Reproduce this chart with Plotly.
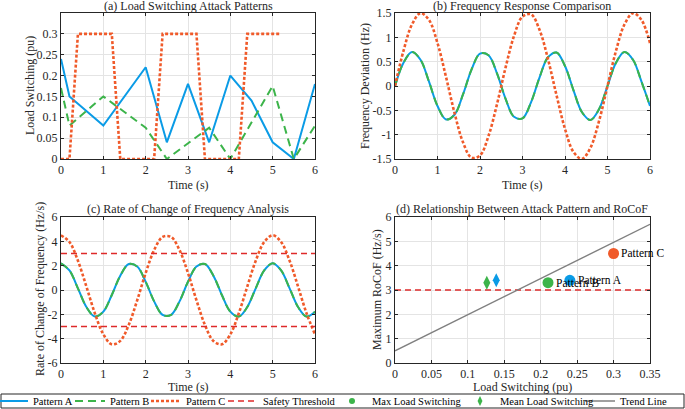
import plotly.graph_objects as go

# (a) load switching attack patterns
t_a = [0, 0.2, 1, 2, 2.5, 3, 3.5, 4, 4.5, 5, 5.5, 6]
load_a = [0.24, 0.15, 0.08, 0.22, 0.04, 0.18, 0.04, 0.20, 0.14, 0.04, 0.0, 0.18]
t_b = [0, 0.2, 1, 2, 2.5, 3.5, 4, 5, 5.5, 6]
load_b = [0.17, 0.08, 0.15, 0.075, 0.0, 0.075, 0.0, 0.175, 0.0, 0.08]
t_c = [0, 0.2, 0.4, 1.2, 1.4, 2.2, 2.4, 3.2, 3.4, 4.2, 4.4, 5.2]
load_c = [0, 0, 0.3, 0.3, 0, 0, 0.3, 0.3, 0, 0, 0.3, 0.3]

# (b) / (c) sampled responses
t_resp = [0, 0.2, 0.4, 0.6, 0.8, 1.0, 1.2, 1.4, 1.6, 1.8, 2.0, 2.2, 2.4, 2.6, 2.8, 3.0,
          3.2, 3.4, 3.6, 3.8, 4.0, 4.2, 4.4, 4.6, 4.8, 5.0, 5.2, 5.4, 5.6, 5.8, 6.0]
freq_ab = [0, 0.479, 0.699, 0.539, 0.088, -0.411, -0.688, -0.591, -0.174, 0.337, 0.666,
           0.633, 0.258, -0.258, -0.633, -0.666, -0.337, 0.174, 0.591, 0.688, 0.411,
           -0.088, -0.539, -0.699, -0.479, 0, 0.479, 0.699, 0.539, 0.088, -0.411]
freq_c = [0, 0.723, 1.266, 1.497, 1.357, 0.882, 0.188, -0.552, -1.156, -1.473, -1.427,
          -1.027, -0.373, 0.373, 1.027, 1.427, 1.473, 1.156, 0.552, -0.188, -0.882,
          -1.357, -1.497, -1.266, -0.723, 0, 0.723, 1.266, 1.497, 1.357, 0.882]
rocof_ab = [2.2, 1.604, 0.138, -1.402, -2.183, -1.780, -0.412, 1.179, 2.131, 1.928, 0.680,
            -0.937, -2.046, -2.046, -0.937, 0.680, 1.928, 2.131, 1.179, -0.412, -1.780,
            -2.183, -1.402, 0.138, 1.604, 2.2, 1.604, 0.138, -1.402, -2.183, -1.780]
rocof_c = [4.5, 3.943, 2.411, 0.283, -1.916, -3.641, -4.464, -4.184, -2.868, -0.843, 1.391,
           3.281, 4.359, 4.359, 3.281, 1.391, -0.843, -2.868, -4.184, -4.464, -3.641,
           -1.916, 0.283, 2.411, 3.943, 4.5, 3.943, 2.411, 0.283, -1.916, -3.641]
threshold = 3
t_span = [0, 6]

# (d) attack pattern vs RoCoF (order B, A, C)
pattern_names = ['Pattern B', 'Pattern A', 'Pattern C']
max_load = [0.21, 0.24, 0.30]
mean_load = [0.126, 0.139]
max_rocof = [3.3, 3.4, 4.5]
trend_x = [0, 0.35]
trend_y = [0.5, 5.7]

# tick labels
ticks_a = [0, 0.05, 0.1, 0.15, 0.2, 0.25, 0.3]
ticks_b = [-1.5, -1, -0.5, 0, 0.5, 1, 1.5]
ticks_c = [-6, -4, -2, 0, 2, 4, 6]
ticks_dx = [0, 0.05, 0.1, 0.15, 0.2, 0.25, 0.3, 0.35]
ticks_dy = [0, 1, 2, 3, 4, 5, 6]
ticks_t = [0, 1, 2, 3, 4, 5, 6]

BLUE = '#0a9be6'
GREEN = '#3cb44a'
ORANGE = '#f05a2a'
RED = '#de2a2a'
GRAY = '#808080'
FONT = 'Liberation Serif, Times New Roman, serif'
W, H = 685, 409


def lbl(v):
    return '%g' % v


fig = go.Figure()

line_a = dict(color=BLUE, width=2)
line_b = dict(color=GREEN, width=2, dash='8px,5px')
line_c = dict(color=ORANGE, width=2.6, dash='3px,2px')

# panel a
fig.add_trace(go.Scatter(x=t_a, y=load_a, mode='lines', line=line_a, name='Pattern A',
                         legend='legend', xaxis='x', yaxis='y'))
fig.add_trace(go.Scatter(x=t_b, y=load_b, mode='lines', line=line_b, name='Pattern B',
                         legend='legend2', xaxis='x', yaxis='y'))
fig.add_trace(go.Scatter(x=t_c, y=load_c, mode='lines', line=line_c, name='Pattern C',
                         legend='legend3', xaxis='x', yaxis='y'))

# panel b
for yv, ln in [(freq_ab, line_a), (freq_ab, line_b), (freq_c, line_c)]:
    fig.add_trace(go.Scatter(x=t_resp, y=yv, mode='lines', line=dict(ln, shape='spline'),
                             showlegend=False, xaxis='x2', yaxis='y2'))

# panel c
for yv, ln in [(rocof_ab, line_a), (rocof_ab, line_b), (rocof_c, line_c)]:
    fig.add_trace(go.Scatter(x=t_resp, y=yv, mode='lines', line=dict(ln, shape='spline'),
                             showlegend=False, xaxis='x3', yaxis='y3'))
thr_line = dict(color=RED, width=1.6, dash='6px,4px')
fig.add_trace(go.Scatter(x=t_span, y=[threshold] * 2, mode='lines', line=thr_line,
                         name='Safety Threshold', legend='legend4', xaxis='x3', yaxis='y3'))
fig.add_trace(go.Scatter(x=t_span, y=[-threshold] * 2, mode='lines', line=thr_line,
                         showlegend=False, xaxis='x3', yaxis='y3'))

# panel d
fig.add_trace(go.Scatter(x=[trend_x[0], trend_x[-1]], y=[threshold] * 2, mode='lines',
                         line=thr_line, showlegend=False, xaxis='x4', yaxis='y4'))
fig.add_trace(go.Scatter(x=trend_x, y=trend_y, mode='lines', line=dict(color=GRAY, width=1.4),
                         name='Trend Line', legend='legend7', xaxis='x4', yaxis='y4'))
fig.add_trace(go.Scatter(x=max_load, y=max_rocof, mode='markers',
                         marker=dict(color=[GREEN, BLUE, ORANGE], size=11, symbol='circle'),
                         showlegend=False, xaxis='x4', yaxis='y4'))
fig.add_trace(go.Scatter(x=mean_load, y=max_rocof[:2], mode='markers',
                         marker=dict(color=[GREEN, BLUE], size=10, symbol='diamond-tall'),
                         showlegend=False, xaxis='x4', yaxis='y4'))
# small legend symbols for the scatter series
fig.add_trace(go.Scatter(x=[None], y=[None], mode='markers', name='Max Load Switching',
                         marker=dict(color=GREEN, size=6, symbol='circle'),
                         legend='legend5', xaxis='x4', yaxis='y4'))
fig.add_trace(go.Scatter(x=[None], y=[None], mode='markers', name='Mean Load Switching',
                         marker=dict(color=GREEN, size=7, symbol='diamond-tall'),
                         legend='legend6', xaxis='x4', yaxis='y4'))

annotations = []
for name, xv, yv in zip(pattern_names, max_load, max_rocof):
    annotations.append(dict(x=xv + 0.008, y=yv, xref='x4', yref='y4', text=name,
                            showarrow=False, xanchor='left', yanchor='middle',
                            font=dict(family=FONT, size=11.5, color='black')))

dom_l = [61 / W, 315 / W]
dom_r = [395 / W, 650 / W]
dom_t = [1 - 159 / H, 1 - 13 / H]
dom_bm = [1 - 363 / H, 1 - 217 / H]


def pt(px, py):
    return px / W, 1 - py / H


texts = [
    ('(a) Load Switching Attack Patterns', 188, 6, 0),
    ('(b) Frequency Response Comparison', 522, 6, 0),
    ('(c) Rate of Change of Frequency Analysis', 188, 209, 0),
    ('(d) Relationship Between Attack Pattern and RoCoF', 522, 209, 0),
    ('Time (s)', 188, 185, 0),
    ('Time (s)', 522, 185, 0),
    ('Time (s)', 188, 387, 0),
    ('Load Switching (pu)', 522, 387, 0),
    ('Load Switching (pu)', 30, 86, -90),
    ('Frequency Deviation (Hz)', 365, 86, -90),
    ('Rate of Change of Frequency (Hz/s)', 40, 289, -90),
    ('Maximum RoCoF (Hz/s)', 377, 290, -90),
]
for txt, px, py, ang in texts:
    ax_, ay_ = pt(px, py)
    annotations.append(dict(x=ax_, y=ay_, xref='paper', yref='paper', text=txt,
                            showarrow=False, textangle=ang, xanchor='center',
                            yanchor='middle', font=dict(family=FONT, size=12, color='#262626')))


def axis(domain, anchor, rng, tv):
    return dict(domain=domain, anchor=anchor, range=rng, tickvals=tv,
                ticktext=[lbl(v) for v in tv], showline=True, mirror='ticks',
                linecolor='#262626', linewidth=1, ticks='inside', ticklen=3,
                tickcolor='#262626', showgrid=True, gridcolor='#e4e4e4', gridwidth=1,
                zeroline=False, tickfont=dict(family=FONT, size=12, color='#262626'))


layout = dict(
    width=W, height=H, margin=dict(l=0, r=0, t=0, b=0, autoexpand=False),
    paper_bgcolor='white', plot_bgcolor='white',
    font=dict(family=FONT, size=11, color='#262626'),
    xaxis=axis(dom_l, 'y', [0, 6], ticks_t),
    yaxis=axis(dom_t, 'x', [0, 0.35], ticks_a),
    xaxis2=axis(dom_r, 'y2', [0, 6], ticks_t),
    yaxis2=axis(dom_t, 'x2', [-1.5, 1.5], ticks_b),
    xaxis3=axis(dom_l, 'y3', [0, 6], ticks_t),
    yaxis3=axis(dom_bm, 'x3', [-6, 6], ticks_c),
    xaxis4=axis(dom_r, 'y4', [0, 0.35], ticks_dx),
    yaxis4=axis(dom_bm, 'x4', [0, 6], ticks_dy),
    annotations=annotations,
    shapes=[dict(type='rect', xref='paper', yref='paper', x0=1 / W, x1=1 - 1 / W,
                 y0=1 / H, y1=1 - 394 / H, line=dict(color='#262626', width=1))],
)

# one legend per entry so each can sit where the original puts it
legend_starts = [-7, 70, 146, 223, 332, 460, 580]
for i, px in enumerate(legend_starts):
    key = 'legend' if i == 0 else 'legend%d' % (i + 1)
    layout[key] = dict(x=px / W, xanchor='left', y=1 - 401 / H, yanchor='middle',
                       orientation='h', bgcolor='rgba(0,0,0,0)', borderwidth=0,
                       itemwidth=30, font=dict(family=FONT, size=10.5, color='black'))

fig.update_layout(**layout)
# drop the default 8px page margin so the figure fills the window
fig.write_html("out.html", config={'displayModeBar': False},
               post_script="document.body.style.margin='0';")
